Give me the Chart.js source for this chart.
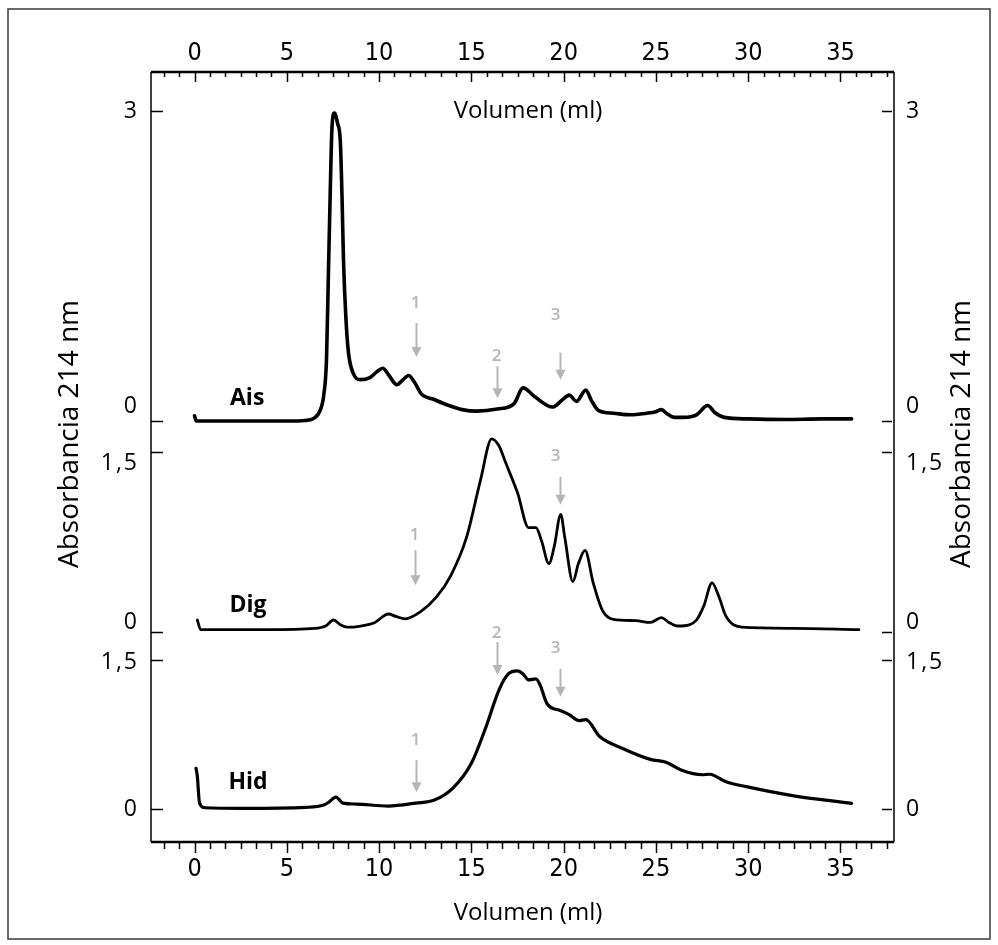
<!DOCTYPE html>
<html>
<head>
<meta charset="utf-8">
<script src="https://cdn.jsdelivr.net/npm/chart.js@4"></script>
<style>
  body { margin: 0; background: #fff; }
  canvas { display: block; }
</style>
</head>
<body>
<canvas id="chromChart" width="998" height="945"></canvas>
<script>
// Volumen (ml) vs absorbancia 214 nm, three runs
const aisVol = [0.0, 0.1, 1.0, 3.0, 5.0, 6.0, 6.5, 6.8, 7.0, 7.15, 7.25, 7.35, 7.45, 7.58, 7.75, 7.9, 8.0, 8.07, 8.2, 8.34,
  8.6, 8.97, 9.5, 9.9, 10.2, 10.5, 10.96, 11.3, 11.6, 11.9, 12.3, 12.95, 13.7, 14.5, 15.3, 16.4, 17.3, 17.8, 18.4, 19.4,
  19.9, 20.3, 20.7, 21.2, 21.5, 21.9, 22.7, 23.6, 24.5, 25.0, 25.3, 25.6, 26.0, 26.5, 27.2, 27.8, 28.2, 28.7, 30.0, 32.0,
  34.0, 35.6];
const aisAbs = [0.05, 0.0, 0.0, 0.0, 0.0, 0.005, 0.03, 0.1, 0.25, 0.6, 1.4, 2.2, 2.85, 2.98, 2.88, 2.7, 2.1, 1.56, 1.0, 0.66,
  0.46, 0.40, 0.42, 0.48, 0.51, 0.45, 0.35, 0.40, 0.44, 0.38, 0.26, 0.21, 0.155, 0.11, 0.095, 0.115, 0.165, 0.32, 0.24, 0.135,
  0.2, 0.25, 0.19, 0.30, 0.2, 0.1, 0.075, 0.06, 0.075, 0.09, 0.11, 0.07, 0.035, 0.035, 0.06, 0.15, 0.08, 0.035, 0.02, 0.015,
  0.02, 0.02];

const digVol = [0.15, 0.33, 2.0, 4.0, 6.5, 7.1, 7.53, 7.9, 8.28, 9.0, 9.77, 10.5, 10.9, 11.4, 12.25, 13.1, 13.9, 14.74, 15.5, 16.1,
  16.5, 16.86, 17.5, 18.1, 18.5, 18.8, 19.2, 19.5, 19.84, 20.06, 20.5, 20.8, 21.16, 21.6, 22.1, 22.7, 23.9, 24.7, 25.3, 25.7,
  26.2, 26.8, 27.2, 27.6, 28.04, 28.4, 28.8, 29.66, 32.4, 36.0];
const digAbs = [0.1, 0.02, 0.02, 0.02, 0.03, 0.05, 0.1, 0.06, 0.04, 0.05, 0.08, 0.15, 0.13, 0.11, 0.17, 0.29, 0.475, 0.79, 1.27, 1.61,
  1.55, 1.41, 1.16, 0.87, 0.87, 0.76, 0.57, 0.72, 0.98, 0.79, 0.42, 0.57, 0.68, 0.41, 0.18, 0.105, 0.095, 0.08, 0.12, 0.08,
  0.05, 0.06, 0.1, 0.22, 0.41, 0.3, 0.13, 0.04, 0.03, 0.02];

const hidVol = [0.08, 0.15, 0.27, 0.57, 2.56, 6.04, 7.0, 7.28, 7.66, 8.03, 8.77, 10.5, 12.0, 13.0, 14.0, 15.0, 15.74, 16.5, 17.0, 17.5,
  17.8, 18.1, 18.5, 18.72, 19.1, 19.84, 20.3, 20.84, 21.2, 21.95, 23.2, 24.7, 25.55, 26.4, 27.5, 27.9, 28.8, 29.9, 32.4, 35.6];
const hidAbs = [0.41, 0.33, 0.06, 0.013, 0.007, 0.017, 0.04, 0.07, 0.12, 0.06, 0.05, 0.03, 0.06, 0.09, 0.21, 0.46, 0.80, 1.2, 1.36, 1.39,
  1.36, 1.30, 1.31, 1.25, 1.06, 0.99, 0.95, 0.89, 0.90, 0.73, 0.61, 0.50, 0.47, 0.39, 0.345, 0.35, 0.275, 0.225, 0.135, 0.057];

const xTickLabels = [0, 5, 10, 15, 20, 25, 30, 35];
const aisTicks = [0, 3];
const digTicks = [0, 1.5];
const hidTicks = [0, 1.5];

// series names, placed at (volumen, absorbancia) in their own panel
const seriesNames = ['Ais', 'Dig', 'Hid'];
const namePanel = ['yAis', 'yDig', 'yHid'];
const nameVol = [2.85, 2.9, 2.9];
const nameAbs = [0.22, 0.225, 0.27];

// grey arrows marking fractions 1, 2, 3
const arrowText = ['1', '2', '3', '1', '3', '1', '2', '3'];
const arrowPanel = ['yAis', 'yAis', 'yAis', 'yDig', 'yDig', 'yHid', 'yHid', 'yHid'];
const arrowVol = [12.0, 16.4, 19.8, 11.95, 19.8, 12.0, 16.4, 19.8];
const arrowAbs = [0.62, 0.22, 0.40, 0.39, 1.06, 0.17, 1.35, 1.13];

// styling
const arrowLen = [34, 32, 27, 35, 28, 32, 33, 28];
const arrowGap = [20, 10, 37, 15, 21, 20, 9, 21];
const tickLabelShift = { yAis: { 0: -15, 3: 0 }, yDig: { 0: -10, 1.5: 11 }, yHid: { 0: 0, 1.5: 2 } };
const minorStep = 5 / 6;

function fmt(v) {
  return String(v).replace('.', ',');
}

function seg(ctx, x1, y1, x2, y2) {
  ctx.beginPath();
  ctx.moveTo(x1, y1);
  ctx.lineTo(x2, y2);
  ctx.stroke();
}

const framePlugin = {
  id: 'frame',
  beforeDraw(chart) {
    const ctx = chart.ctx;
    ctx.save();
    ctx.fillStyle = '#fff';
    ctx.fillRect(0, 0, chart.width, chart.height);
    ctx.strokeStyle = '#3a3a3a';
    ctx.lineWidth = 1.5;
    ctx.strokeRect(8, 9, 982, 930);
    ctx.restore();
  },
  afterDraw(chart) {
    const ctx = chart.ctx;
    const a = chart.chartArea;
    const x = chart.scales.x;
    ctx.save();
    ctx.strokeStyle = '#000';
    ctx.fillStyle = '#000';

    // box
    ctx.lineWidth = 2.5;
    seg(ctx, a.left, a.top, a.right, a.top);
    seg(ctx, a.left, a.bottom, a.right, a.bottom);
    ctx.lineWidth = 1.5;
    seg(ctx, a.left, a.top, a.left, a.bottom);
    seg(ctx, a.right, a.top, a.right, a.bottom);

    // x ticks, both downward
    ctx.lineWidth = 1.5;
    const kStart = Math.ceil(x.min / minorStep);
    const kEnd = Math.floor(x.max / minorStep);
    for (let k = kStart; k <= kEnd; k++) {
      const px = Math.round(x.getPixelForValue(k * minorStep)) + 0.5;
      const major = k % 6 === 0;
      seg(ctx, px, a.top, px, a.top + (major ? 10 : 5));
      seg(ctx, px, a.bottom, px, a.bottom + (major ? 11 : 7));
    }

    // x tick labels
    ctx.font = "25px 'Liberation Sans Narrow', 'DejaVu Sans Condensed', sans-serif";
    ctx.textAlign = 'center';
    ctx.textBaseline = 'middle';
    xTickLabels.forEach(v => {
      const px = x.getPixelForValue(v);
      ctx.fillText(String(v), px, 53);
      ctx.fillText(String(v), px, 869);
    });

    // y ticks per panel
    const panels = [['yAis', aisTicks], ['yDig', digTicks], ['yHid', hidTicks]];
    ctx.font = "23px 'Open Sans', sans-serif";
    ctx.letterSpacing = '2px';
    panels.forEach(([id, ticks]) => {
      const ys = chart.scales[id];
      ticks.forEach(t => {
        const py = Math.round(ys.getPixelForValue(t)) + 0.5;
        ctx.lineWidth = 1.5;
        seg(ctx, a.left, py, a.left + 12, py);
        seg(ctx, a.right - 12, py, a.right - 2, py);
        const ly = py + tickLabelShift[id][t];
        ctx.textAlign = 'right';
        ctx.fillText(fmt(t), 139, ly);
        ctx.textAlign = 'left';
        ctx.fillText(fmt(t), 906, ly);
      });
    });
    ctx.letterSpacing = '0px';

    // axis titles
    ctx.font = "24px 'Open Sans', sans-serif";
    ctx.textAlign = 'center';
    ctx.fillText('Volumen (ml)', 528, 111);
    ctx.fillText('Volumen (ml)', 528, 913);
    ctx.font = "28px 'Open Sans', sans-serif";
    [70, 962].forEach(cx => {
      ctx.save();
      ctx.translate(cx, 434);
      ctx.rotate(-Math.PI / 2);
      ctx.fillText('Absorbancia 214 nm', 0, 0);
      ctx.restore();
    });

    // series names
    ctx.font = "bold 23px 'Open Sans', sans-serif";
    seriesNames.forEach((n, i) => {
      const ys = chart.scales[namePanel[i]];
      ctx.fillText(n, x.getPixelForValue(nameVol[i]), ys.getPixelForValue(nameAbs[i]));
    });

    // fraction arrows
    ctx.strokeStyle = '#b5b5b5';
    ctx.fillStyle = '#b5b5b5';
    ctx.font = "600 17px 'Open Sans', sans-serif";
    arrowText.forEach((t, i) => {
      const ys = chart.scales[arrowPanel[i]];
      const px = Math.round(x.getPixelForValue(arrowVol[i])) + 0.5;
      const tip = ys.getPixelForValue(arrowAbs[i]);
      const tail = tip - arrowLen[i];
      ctx.lineWidth = 2;
      seg(ctx, px, tail, px, tip - 8);
      ctx.beginPath();
      ctx.moveTo(px - 5, tip - 10);
      ctx.lineTo(px + 5, tip - 10);
      ctx.lineTo(px, tip);
      ctx.closePath();
      ctx.fill();
      ctx.fillText(t, px - (t === '3' ? 5 : 1), tail - arrowGap[i]);
    });
    ctx.restore();
  }
};

function series(vol, abs) {
  return vol.map((v, i) => ({ x: v, y: abs[i] }));
}

const lineStyle = {
  borderColor: '#000',
  pointRadius: 0,
  fill: false,
  cubicInterpolationMode: 'monotone',
  borderJoinStyle: 'round',
  borderCapStyle: 'round'
};

const ctx = document.getElementById('chromChart').getContext('2d');
const chromChart = new Chart(ctx, {
  type: 'line',
  data: {
    datasets: [
      Object.assign({ label: 'Ais', data: series(aisVol, aisAbs), yAxisID: 'yAis', borderWidth: 3.6 }, lineStyle),
      Object.assign({ label: 'Dig', data: series(digVol, digAbs), yAxisID: 'yDig', borderWidth: 2.8 }, lineStyle),
      Object.assign({ label: 'Hid', data: series(hidVol, hidAbs), yAxisID: 'yHid', borderWidth: 3.2 }, lineStyle)
    ]
  },
  options: {
    responsive: false,
    animation: false,
    layout: { padding: { left: 151, right: 104, top: 72, bottom: 103 } },
    plugins: { legend: { display: false }, tooltip: { enabled: false } },
    scales: {
      x: { type: 'linear', min: -2.36, max: 37.9, display: false },
      yAis: { type: 'linear', min: -4.074, max: 3.377, display: false },
      yDig: { type: 'linear', min: -1.75, max: 4.667, display: false },
      yHid: { type: 'linear', min: -0.332, max: 7.42, display: false }
    }
  },
  plugins: [framePlugin]
});
</script>
</body>
</html>
